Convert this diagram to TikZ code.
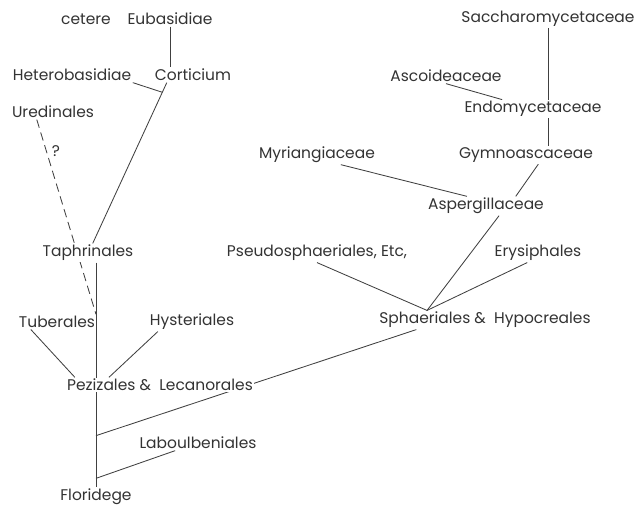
\documentclass[tikz,border=0pt]{standalone}
\usepackage{fontspec}
\setmainfont{Poppins}
\usetikzlibrary{calc}
\pgfdeclarelayer{bg}\pgfsetlayers{bg,main}
\tikzset{taxon/.style={inner sep=1pt,fill=white,text=black!80},link/.style={draw=black!75,line width=0.6pt}}

\begin{document}
\begin{tikzpicture}[x=0.025cm,y=-0.025cm,font=\fontsize{11}{13}\selectfont,line join=round]
\useasboundingbox (0,0) rectangle (639,508);
% --- left: basidiomycete side and main stem
\node[taxon] (cet) at (86,19) {cetere}; \node[taxon] (eub) at (170,19) {Eubasidiae};
\node[taxon] (het) at (72,75) {Heterobasidiae}; \node[taxon] (cort) at (193,75) {Corticium};
\node[taxon] (ure) at (53,112) {Uredinales}; \node[taxon,fill=none] (q) at (56,151) {?};
\node[taxon] (taph) at (88,253) {Taphrinales};
\node[taxon] (tub) at (57,322) {Tuberales}; \node[taxon] (hys) at (192,322) {Hysteriales};
\node[taxon] (pez) at (160,385) {Pezizales \&\ \ Lecanorales};
\node[taxon] (lab) at (198,443) {Laboulbeniales};
\node[taxon] (flor) at (96,497) {Floridege};
% --- right: ascomycete side
\node[taxon] (sac) at (548,19) {Saccharomycetaceae};
\node[taxon] (asc) at (446,76) {Ascoideaceae}; \node[taxon] (endo) at (533,109) {Endomycetaceae};
\node[taxon] (myr) at (317,155) {Myriangiaceae}; \node[taxon] (gym) at (526,155) {Gymnoascaceae};
\node[taxon] (asp) at (486,206) {Aspergillaceae};
\node[taxon] (pse) at (317,253) {Pseudosphaeriales, Etc,}; \node[taxon] (ery) at (538,253) {Erysiphales};
\node[taxon] (sph) at (485,320) {Sphaeriales \&\ \ Hypocreales};
\begin{pgfonlayer}{bg}
\draw[link] (eub.south) -- (eub.south |- cort.north);
\draw[link] ($(cort.south west)!0.17!(cort.south east)$) -- coordinate[pos=0.06] (kj) ($(taph.north west)!0.55!(taph.north east)$);
\draw[link] (het.south east) -- (kj);
\draw[link] (taph.south -| flor.north) -- coordinate[pos=0.23] (kure) coordinate[pos=0.77] (klec) coordinate[pos=0.96] (klab) (flor.north);
\draw[link,dash pattern=on 6pt off 3.5pt] ($(ure.south west)!0.31!(ure.south east)$) -- (kure);
\draw[link] ($(tub.south west)!0.17!(tub.south east)$) -- ($(pez.north west)!0.05!(pez.north east)$);
\draw[link] ($(hys.south west)!0.11!(hys.south east)$) -- ($(pez.north west)!0.23!(pez.north east)$);
\draw[link] ($(lab.south west)!0.31!(lab.south east)$) -- (klab);
\draw[link] (sac.south) -- (sac.south |- endo.north); \draw[link] (sac.south |- endo.south) -- (sac.south |- gym.north);
\draw[link] (asc.south) -- ($(endo.north west)!0.28!(endo.north east)$);
\draw[link] ($(myr.south west)!0.7!(myr.south east)$) -- ($(asp.north west)!0.34!(asp.north east)$);
\draw[link] ($(gym.south west)!0.59!(gym.south east)$) -- ($(asp.north west)!0.75!(asp.north east)$);
\coordinate (ksph) at ($(sph.north west)!0.23!(sph.north east)$);
\draw[link] ($(asp.south west)!0.61!(asp.south east)$) -- (ksph);
\draw[link] (pse.south) -- (ksph); \draw[link] ($(ery.south west)!0.38!(ery.south east)$) -- (ksph);
\draw[link] ($(sph.south west)!0.18!(sph.south east)$) -- (klec);
\end{pgfonlayer}
\end{tikzpicture}
\end{document}
